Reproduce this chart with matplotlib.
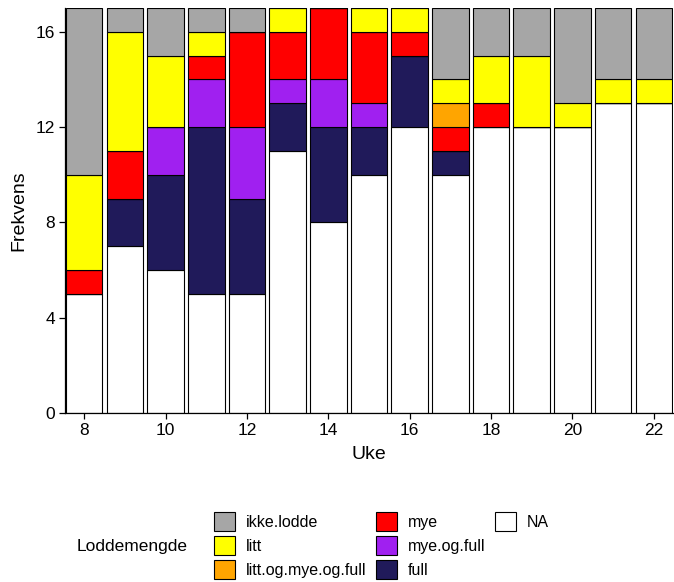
import matplotlib
matplotlib.use("Agg")
import matplotlib.pyplot as plt
from matplotlib.patches import Rectangle
import numpy as np

plt.rcParams['font.family'] = ['Liberation Sans', 'DejaVu Sans']

weeks = [8, 9, 10, 11, 12, 13, 14, 15, 16, 17, 18, 19, 20, 21, 22]

# stacked bottom -> top
NA_vals         = [5, 7, 6, 5, 5, 11, 8, 10, 12, 10, 12, 12, 12, 13, 13]
full_vals       = [0, 2, 4, 7, 4, 2, 4, 2, 3, 1, 0, 0, 0, 0, 0]
mye_og_full     = [0, 0, 2, 2, 3, 1, 2, 1, 0, 0, 0, 0, 0, 0, 0]
mye_vals        = [1, 2, 0, 1, 4, 2, 3, 3, 1, 1, 1, 0, 0, 0, 0]
litt_og_mye     = [0, 0, 0, 0, 0, 0, 0, 0, 0, 1, 0, 0, 0, 0, 0]
litt_vals       = [4, 5, 3, 1, 0, 1, 0, 1, 1, 1, 2, 3, 1, 1, 1]
ikke_lodde      = [7, 1, 2, 1, 1, 0, 0, 0, 0, 3, 2, 2, 4, 3, 3]

stack_order = ["NA", "full", "mye.og.full", "mye", "litt.og.mye.og.full", "litt", "ikke.lodde"]
series = {
    "NA": NA_vals,
    "full": full_vals,
    "mye.og.full": mye_og_full,
    "mye": mye_vals,
    "litt.og.mye.og.full": litt_og_mye,
    "litt": litt_vals,
    "ikke.lodde": ikke_lodde,
}
colors = {
    "ikke.lodde": "#A6A6A6",
    "litt": "#FFFF00",
    "litt.og.mye.og.full": "#FFA500",
    "mye": "#FF0000",
    "mye.og.full": "#A020F0",
    "full": "#201A5A",
    "NA": "#FFFFFF",
}
legend_order = ["ikke.lodde", "litt", "litt.og.mye.og.full", "mye", "mye.og.full", "full", "NA"]

fig = plt.figure(figsize=(6.74, 5.82), dpi=100)
ax = fig.add_axes([65/674, 1-413/582, 608/674, 405/582])

bottom = np.zeros(len(weeks))
for name in stack_order:
    vals = np.array(series[name], dtype=float)
    ax.bar(weeks, vals, bottom=bottom, width=0.9, color=colors[name],
           edgecolor="black", linewidth=0.8, zorder=2)
    bottom += vals

ax.set_xlim(7.53, 22.47)
ax.set_ylim(0, 17)
ax.set_xticks([8, 10, 12, 14, 16, 18, 20, 22])
ax.set_yticks([0, 4, 8, 12, 16])
for s in ["top", "right"]:
    ax.spines[s].set_visible(False)
for s in ["left", "bottom"]:
    ax.spines[s].set_linewidth(0.9)
ax.tick_params(axis="both", labelsize=12.5, length=4, width=0.9, colors="black", pad=3)
ax.set_xlabel("Uke", fontsize=14, labelpad=6)
ax.set_ylabel("Frekvens", fontsize=14, labelpad=6)

handles = [Rectangle((0, 0), 1, 1, facecolor=colors[n], edgecolor="black", linewidth=0.8)
           for n in legend_order]
labels = list(legend_order)
# pad so that columns fill 3, 3, 1
blank = Rectangle((0, 0), 1, 1, facecolor="none", edgecolor="none")
handles += [blank, blank]
labels += ["", ""]
leg = fig.legend(handles, labels, loc="upper left",
                 bbox_to_anchor=(214/674, 1-512/582), ncol=3, frameon=False,
                 fontsize=11.5, handlelength=1.3, handleheight=1.45,
                 handletextpad=0.7, columnspacing=0.6, labelspacing=0.32,
                 borderpad=0, borderaxespad=0)
fig.text(77/674, 1-547/582, "Loddemengde", fontsize=12.5, va="center", ha="left")

fig.savefig("out.png", dpi=100)
